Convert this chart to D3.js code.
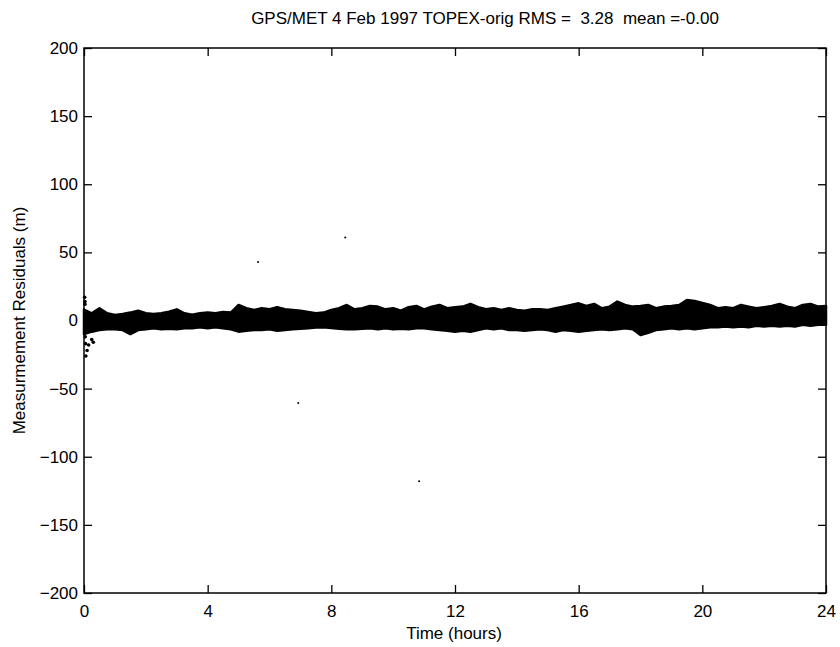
<!DOCTYPE html>
<html>
<head>
<meta charset="utf-8">
<script src="https://cdn.jsdelivr.net/npm/d3@7"></script>
<style>
  body { margin: 0; background: #fff; }
  svg text { font-family: "Liberation Sans", Arial, sans-serif; fill: #000; }
</style>
</head>
<body>
<svg id="plate" width="840" height="647"></svg>
<script>
// hours sampled every 0.25 h along the residual band
var hours = d3.range(0, 24.001, 0.25);
// upper / lower edge of the dense residual band (m)
var bandTop = [8, 5.3, 9, 5.3, 4, 4.8, 5.8, 7.2, 5.3, 4.8, 5.3, 6.5, 8.2, 5.3, 4.3, 5.3, 5.8, 5.3, 6.3, 5.8,
    11.4, 9, 7.7, 9, 8.2, 9.8, 8.2, 7.7, 7.2, 6.3, 5.3, 5.8, 7.7, 9, 11.4, 8.2, 9, 10.7, 10.2,
    8.2, 9, 7.2, 9.8, 10.7, 8.2, 10.2, 11.4, 9, 9.8, 10.2, 12.2, 9.8, 8.2, 9, 7.7, 9, 7.7, 7.2, 8.2,
    8.2, 7.7, 9, 10.2, 11.4, 12.6, 10.7, 12.2, 9, 10.2, 13.9, 11.4, 10.2, 10.7, 11.4, 9, 10.2, 10.7, 11.4,
    15, 14.4, 12.9, 11.4, 9, 9.8, 9, 11.4, 10.2, 9, 9.8, 10.7, 12.2, 10.2, 9, 11.4, 12.2, 10.2, 10.7];
var bandBottom = [-10, -8.2, -7, -6.5, -6.5, -7, -10, -7, -6.5, -5.7, -6.5, -6, -6.5, -5.7, -5.7, -5, -5.7, -5, -5.7, -6.5,
    -8.2, -7.6, -7, -7, -6.5, -7.6, -7, -6.5, -6, -5.7, -5.2, -5, -5.5, -6, -6.5, -6.5, -6, -5.7, -6.5,
    -5.7, -6.5, -6, -6.5, -5.7, -5.7, -6.5, -7, -7.6, -8.2, -7.6, -8.2, -7, -5.7, -6.5, -5.7, -7, -7, -7.6, -7,
    -6.5, -7, -8.2, -7, -7.6, -8.2, -7.6, -7, -6.5, -7, -6.5, -5.7, -6.5, -10.6, -9, -7, -6.5, -5.7, -6.5,
    -5.7, -6.5, -5.7, -5, -5, -4.4, -5, -4.4, -5, -3.9, -4.4, -3.9, -4.4, -3.9, -4.4, -3.2, -3.9, -3.2, -3.2];
// scattered points: start-up transient and isolated outliers
var extraHours = [0.02, 0.03, 0.03, 0.04, 0.05, 0.06, 0.1, 0.15, 0.25, 0.3, 5.63, 8.45, 6.93, 10.84];
var extraResid = [17, 12, 14, -12, -17, -26, -22, -18, -14, -16, 43, 61, -60.5, -118];

var xTicks = [0, 4, 8, 12, 16, 20, 24];
var yTicks = [-200, -150, -100, -50, 0, 50, 100, 150, 200];

var margin = {top: 48, right: 14, bottom: 54, left: 84};
var width = 840 - margin.left - margin.right;
var height = 647 - margin.top - margin.bottom;

var svg = d3.select('#plate');
var g = svg.append('g').attr('transform', 'translate(' + margin.left + ',' + margin.top + ')');

var x = d3.scaleLinear().domain([0, 24]).range([0, width]);
var y = d3.scaleLinear().domain([-200, 200]).range([height, 0]);

var band = hours.map(function (h, i) { return {t: h, hi: bandTop[i], lo: bandBottom[i]}; });

var area = d3.area()
    .x(function (d) { return x(d.t); })
    .y0(function (d) { return y(d.lo); })
    .y1(function (d) { return y(d.hi); });

g.append('path')
    .datum(band)
    .attr('d', area)
    .attr('fill', '#000')
    .attr('stroke', '#000')
    .attr('stroke-width', 2.5)
    .attr('stroke-linejoin', 'round');

g.selectAll('circle.extra')
    .data(extraHours)
    .enter().append('circle')
    .attr('class', 'extra')
    .attr('cx', function (d) { return x(d); })
    .attr('cy', function (d, i) { return y(extraResid[i]); })
    .attr('r', function (d, i) { return Math.abs(extraResid[i]) > 30 ? 1 : 1.8; })
    .attr('fill', '#000');

// axes, matlab style: inward ticks on all four sides
function styleAxis(sel) {
    sel.select('.domain').remove();
    sel.selectAll('line').attr('stroke', '#000').attr('stroke-width', 1.3);
    sel.selectAll('text').attr('font-size', 17).attr('fill', '#000');
}

g.append('g')
    .attr('transform', 'translate(0,' + height + ')')
    .call(d3.axisBottom(x).tickValues(xTicks).tickSize(-8).tickPadding(12))
    .call(styleAxis);
g.append('g')
    .call(d3.axisTop(x).tickValues(xTicks).tickSize(-8).tickFormat(''))
    .call(styleAxis);
g.append('g')
    .call(d3.axisLeft(y).tickValues(yTicks).tickSize(-8).tickPadding(6))
    .call(styleAxis);
g.append('g')
    .attr('transform', 'translate(' + width + ',0)')
    .call(d3.axisRight(y).tickValues(yTicks).tickSize(-8).tickFormat(''))
    .call(styleAxis);

g.append('rect')
    .attr('width', width)
    .attr('height', height)
    .attr('fill', 'none')
    .attr('stroke', '#000')
    .attr('stroke-width', 1.5);

// titles
svg.append('text')
    .attr('x', 485)
    .attr('y', 24)
    .attr('text-anchor', 'middle')
    .attr('font-size', 17)
    .style('white-space', 'pre')
    .text('GPS/MET 4 Feb 1997 TOPEX-orig RMS =  3.28  mean =-0.00');

svg.append('text')
    .attr('x', 454)
    .attr('y', 639)
    .attr('text-anchor', 'middle')
    .attr('font-size', 17)
    .text('Time (hours)');

svg.append('text')
    .attr('transform', 'translate(25,' + (margin.top + height / 2) + ') rotate(-90)')
    .attr('text-anchor', 'middle')
    .attr('font-size', 17)
    .text('Measurmement Residuals (m)');
</script>
</body>
</html>
